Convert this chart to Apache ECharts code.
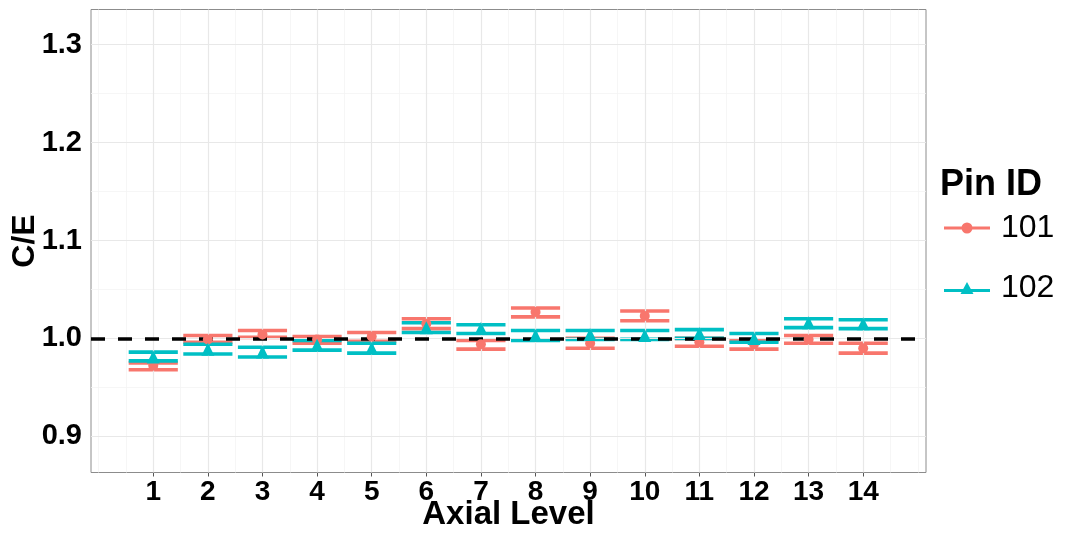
<!DOCTYPE html>
<html>
<head>
<meta charset="utf-8">
<script src="https://cdn.jsdelivr.net/npm/echarts@6/dist/echarts.min.js"></script>
<style>html,body{margin:0;padding:0;background:#fff;}#c{width:1067px;height:533px;}</style>
</head>
<body>
<div id="c"></div>
<script>
// ---- data ----
const categories = [1,2,3,4,5,6,7,8,9,10,11,12,13,14];
const yTicks = [0.9,1.0,1.1,1.2,1.3];
const xMinorGrid = [0,0.5,1.5,2.5,3.5,4.5,5.5,6.5,7.5,8.5,9.5,10.5,11.5,12.5,13.5,14.5,15];
const yMinorGrid = [0.95,1.05,1.15,1.25];
const refLine = 1.0;
const pin101Mean = [0.972,0.999,1.004,0.999,1.002,1.015,0.994,1.027,0.995,1.023,0.996,0.994,0.999,0.990];
const pin101Low  = [0.968,0.996,1.001,0.995,0.997,1.010,0.989,1.022,0.990,1.018,0.992,0.989,0.995,0.985];
const pin101High = [0.975,1.003,1.008,1.002,1.006,1.020,0.998,1.031,1.000,1.028,1.000,0.998,1.003,0.995];
const pin102Mean = [0.981,0.989,0.986,0.993,0.990,1.011,1.010,1.003,1.004,1.003,1.005,1.000,1.016,1.015];
const pin102Low  = [0.977,0.984,0.981,0.988,0.985,1.006,1.005,0.998,0.999,0.999,1.000,0.996,1.011,1.010];
const pin102High = [0.986,0.994,0.991,0.998,0.995,1.016,1.014,1.008,1.008,1.008,1.009,1.005,1.020,1.019];

const RED = '#F8766D', TEAL = '#00BFC4';
const FONT = "'Liberation Sans', Arial, Helvetica, sans-serif";
const capWidth = 0.9;

function errData(lo, hi){ return categories.map((c,i)=>[c, lo[i], hi[i]]); }
function ptData(m){ return categories.map((c,i)=>[c, m[i]]); }

function renderErr(params, api){
  const x = api.value(0), lo = api.value(1), hi = api.value(2);
  const pLo = api.coord([x, lo]);
  const pHi = api.coord([x, hi]);
  const w = api.size([capWidth, 0])[0];
  const style = {stroke: api.visual('color'), lineWidth: 3.6, fill: null};
  return {type:'group', children:[
    {type:'line', shape:{x1:pLo[0], y1:pLo[1], x2:pHi[0], y2:pHi[1]}, style: style},
    {type:'line', shape:{x1:pLo[0]-w/2, y1:pLo[1], x2:pLo[0]+w/2, y2:pLo[1]}, style: style},
    {type:'line', shape:{x1:pHi[0]-w/2, y1:pHi[1], x2:pHi[0]+w/2, y2:pHi[1]}, style: style}
  ]};
}

const iconCircle = 'path://M0,4.5 H46 V7.5 H0 Z M28.5,6 A5.5,5.5 0 1 1 17.5,6 A5.5,5.5 0 1 1 28.5,6 Z';
const iconTri = 'path://M0,7 H46 V10 H0 Z M23,0 L29.5,12 L16.5,12 Z';

const chart = echarts.init(document.getElementById('c'), null, {renderer:'canvas'});
chart.setOption({
  animation: false,
  backgroundColor: '#fff',
  textStyle: {fontFamily: FONT},
  title: {
    text: 'Pin ID', left: 935, top: 162,
    textStyle: {fontSize: 36, fontWeight: 'bold', color: '#000', fontFamily: FONT}
  },
  legend: {
    orient: 'vertical', left: 939, top: 203,
    itemWidth: 46, itemHeight: 12, itemGap: 20,
    selectedMode: false,
    data: [{name:'101', icon: iconCircle}, {name:'102', icon: iconTri}],
    textStyle: {fontSize: 32, lineHeight: 40, color: '#000', fontFamily: FONT, padding: [0,0,0,6]}
  },
  grid: {
    left: 91, right: 141, top: 9.5, bottom: 60.5,
    outerBoundsMode: 'none', containLabel: false,
    show: true, borderColor: '#8c8c8c', borderWidth: 1, backgroundColor: '#fff'
  },
  xAxis: {
    type: 'value', min: -0.14, max: 15.15,
    name: 'Axial Level', nameLocation: 'middle', nameGap: 26, nameMoveOverlap: false,
    nameTextStyle: {fontSize: 33, fontWeight: 'bold', color: '#000', fontFamily: FONT},
    axisLine: {show: false},
    axisTick: {show: true, customValues: categories, length: 4, lineStyle: {color: '#555'}},
    axisLabel: {customValues: categories, fontSize: 28, fontWeight: 'bold', color: '#000', margin: 6, fontFamily: FONT},
    splitLine: {show: false}, minorSplitLine: {show: false}
  },
  yAxis: {
    type: 'value', min: 0.863, max: 1.336,
    name: 'C/E', nameLocation: 'middle', nameGap: 50, nameRotate: 90, nameMoveOverlap: false,
    nameTextStyle: {fontSize: 32, fontWeight: 'bold', color: '#000', fontFamily: FONT},
    axisLine: {show: false},
    axisTick: {show: true, customValues: yTicks, length: 4, lineStyle: {color: '#555'}},
    axisLabel: {customValues: yTicks, fontSize: 29, fontWeight: 'bold', color: '#000', margin: 9, fontFamily: FONT,
      formatter: v => Number(v).toFixed(1)},
    splitLine: {show: false}, minorSplitLine: {show: false}
  },
  series: [
    {
      type: 'line', name: 'minorGrid', data: [], z: 0, silent: true,
      markLine: {silent: true, symbol: 'none', label: {show: false},
        lineStyle: {color: '#f4f4f4', width: 0.8, type: 'solid'},
        data: xMinorGrid.map(v=>({xAxis: v})).concat(yMinorGrid.map(v=>({yAxis: v})))}
    },
    {
      type: 'line', name: 'majorGrid', data: [], z: 1, silent: true,
      markLine: {silent: true, symbol: 'none', label: {show: false},
        lineStyle: {color: '#e8e8e8', width: 1.2, type: 'solid'},
        data: categories.map(v=>({xAxis: v})).concat(yTicks.map(v=>({yAxis: v})))}
    },
    {type: 'custom', name: '101', renderItem: renderErr, data: errData(pin101Low, pin101High),
      itemStyle: {color: RED}, encode: {x: 0, y: [1,2]}, z: 3},
    {type: 'custom', name: '102', renderItem: renderErr, data: errData(pin102Low, pin102High),
      itemStyle: {color: TEAL}, encode: {x: 0, y: [1,2]}, z: 4},
    {type: 'scatter', name: '101', data: ptData(pin101Mean), symbol: 'circle', symbolSize: 10,
      itemStyle: {color: RED, opacity: 1}, z: 5},
    {type: 'scatter', name: '102', data: ptData(pin102Mean), symbol: 'triangle', symbolSize: 13,
      itemStyle: {color: TEAL, opacity: 1}, z: 6},
    {
      type: 'line', name: 'ref', data: [], z: 10, silent: true,
      markLine: {silent: true, symbol: 'none', label: {show: false},
        lineStyle: {color: '#000', width: 3.5, type: [14, 13]},
        data: [{yAxis: refLine}]}
    }
  ]
});
</script>
</body>
</html>
